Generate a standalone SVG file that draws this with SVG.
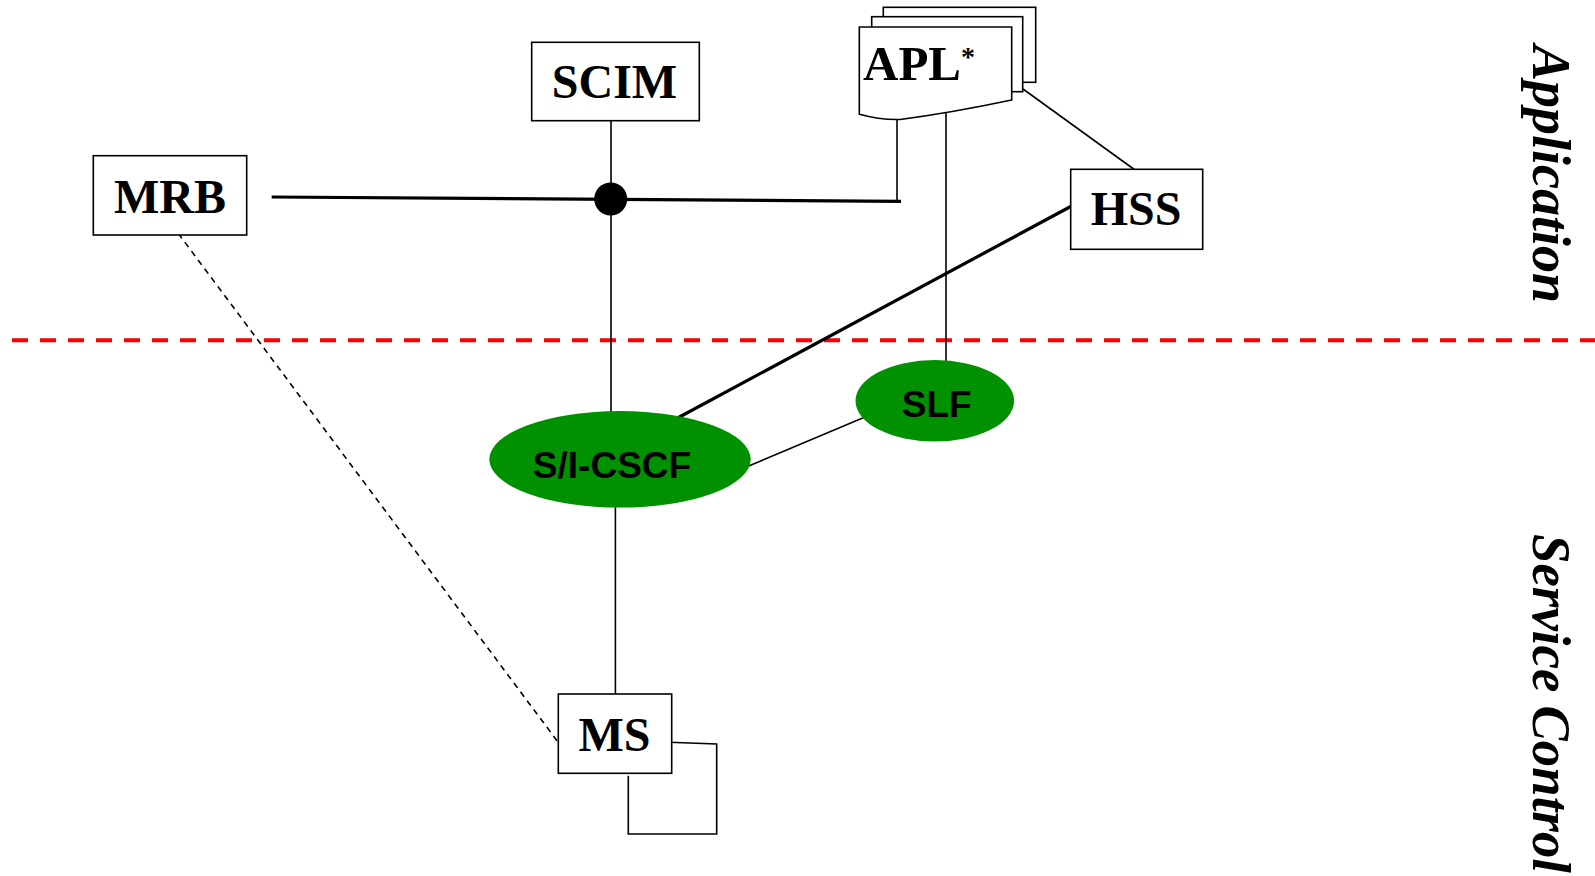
<svg xmlns="http://www.w3.org/2000/svg" width="1595" height="876" viewBox="0 0 1595 876">
<style>
.box{fill:#fff;stroke:#000;stroke-width:1.6}
.page{fill:#fff;stroke:#000;stroke-width:1.6}
.lbl{font-family:"Liberation Serif","Times New Roman",serif;font-weight:bold;font-size:48px;fill:#000;text-anchor:middle}
.ell{fill:#009100}
.elbl{font-family:"Liberation Sans",Arial,sans-serif;font-weight:bold;font-size:37px;fill:#000;text-anchor:middle}
.thin{stroke:#000;stroke-width:1.6;fill:none}
.thick{stroke:#000;stroke-width:3.2;fill:none}
.dash{stroke:#000;stroke-width:1.6;fill:none;stroke-dasharray:6 5}
.layer{font-family:"Liberation Serif","Times New Roman",serif;font-weight:bold;font-style:italic;font-size:54px;fill:#000}
</style>
<rect width="1595" height="876" fill="#fff"/>
<line x1="12" y1="340.3" x2="1595" y2="340.3" stroke="#ff0000" stroke-width="4" stroke-dasharray="16 12"/>
<g id="connectors">
<line class="thick" x1="271.7" y1="197" x2="901" y2="201.4"/>
<line class="thin" x1="897" y1="119" x2="897" y2="201.4"/>
<line class="thin" x1="611" y1="121" x2="611" y2="412"/>
<line class="thin" x1="946" y1="110" x2="946" y2="364"/>
<line class="thin" x1="1023" y1="89" x2="1135" y2="170"/>
<line class="thick" x1="1070.7" y1="206.5" x2="678.5" y2="417.5"/>
<line class="thin" x1="865" y1="417" x2="748.7" y2="466"/>
<line class="thin" x1="615.4" y1="507" x2="615.4" y2="694"/>
<line class="dash" x1="178.3" y1="233.5" x2="558.4" y2="742.6"/>
<polyline class="thin" points="669,742.3 716.7,744 716.7,834 628.3,834 628.3,775.7"/>
<circle cx="610.7" cy="199" r="16.5" fill="#000"/>
</g>
<g id="scim">
<rect class="box" x="531.7" y="42.3" width="167.6" height="78.4"/>
<text class="lbl" x="614.5" y="98.3">SCIM</text>
</g>
<g id="mrb">
<rect class="box" x="93.3" y="155.7" width="153.4" height="79.3"/>
<text class="lbl" x="170" y="212.7">MRB</text>
</g>
<g id="hss">
<rect class="box" x="1070.7" y="169.3" width="132" height="80"/>
<text class="lbl" x="1136" y="225">HSS</text>
</g>
<g id="apl">
<rect class="page" x="883.3" y="7.3" width="152.4" height="75"/>
<rect class="page" x="871.7" y="16.7" width="151" height="75"/>
<path class="page" d="M859.3,27 H1011.7 V100 Q950,113 900,119.5 Q880,120 859.3,114.3 Z"/>
<text x="863" y="80" font-family="'Liberation Serif','Times New Roman',serif" font-weight="bold" font-size="49" fill="#000">APL<tspan font-size="28" y="66">*</tspan></text>
</g>
<g id="sicscf">
<ellipse class="ell" cx="620" cy="459.3" rx="130.7" ry="48.3"/>
<text class="elbl" x="612" y="478">S/I-CSCF</text>
</g>
<g id="slf">
<ellipse class="ell" cx="934.8" cy="400.8" rx="79.3" ry="40.7"/>
<text class="elbl" x="936.7" y="417">SLF</text>
</g>
<g id="ms">
<rect class="box" x="558.3" y="694" width="113.4" height="79.3"/>
<text class="lbl" x="614.5" y="751">MS</text>
</g>
<text class="layer" transform="translate(1533,45) rotate(90)">Application</text>
<text class="layer" transform="translate(1533,534) rotate(90)" textLength="339" lengthAdjust="spacingAndGlyphs">Service Control</text>
</svg>
